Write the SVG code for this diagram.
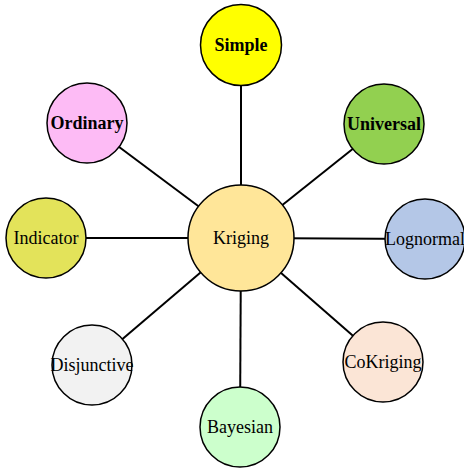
<svg xmlns="http://www.w3.org/2000/svg" width="464" height="468" viewBox="0 0 464 468">
<style>
.c{stroke:#000;stroke-width:1.5}
.t{font-family:"Liberation Serif","Times New Roman",serif;font-size:18px;text-anchor:middle;dominant-baseline:central;fill:#000}
.b{font-weight:bold}
#connectors line{stroke:#000;stroke-width:2}
</style>
<rect width="464" height="468" fill="#fff"/>
<g id="connectors">
<line x1="241" y1="238" x2="241" y2="45"/>
<line x1="241" y1="238" x2="384" y2="124"/>
<line x1="241" y1="238" x2="425" y2="239"/>
<line x1="241" y1="238" x2="383" y2="362"/>
<line x1="241" y1="238" x2="240" y2="427"/>
<line x1="241" y1="238" x2="92" y2="365"/>
<line x1="241" y1="238" x2="46" y2="238"/>
<line x1="241" y1="238" x2="87" y2="123"/>
</g>
<g id="simple"><circle class="c" cx="241" cy="45" r="40.5" fill="#ffff00"/><text class="t b" x="241" y="45">Simple</text></g>
<g id="universal"><circle class="c" cx="384" cy="124" r="40" fill="#92d050"/><text class="t b" x="384" y="124">Universal</text></g>
<g id="lognormal"><circle class="c" cx="425" cy="239" r="40" fill="#b4c7e7"/><text class="t" x="425" y="239">Lognormal</text></g>
<g id="cokriging"><circle class="c" cx="383" cy="362" r="40" fill="#fbe5d6"/><text class="t" x="383" y="362">CoKriging</text></g>
<g id="bayesian"><circle class="c" cx="240" cy="427" r="40" fill="#ccffcc"/><text class="t" x="240" y="427">Bayesian</text></g>
<g id="disjunctive"><circle class="c" cx="92" cy="365" r="40" fill="#f2f2f2"/><text class="t" x="92" y="365">Disjunctive</text></g>
<g id="indicator"><circle class="c" cx="46" cy="238" r="40" fill="#e3e35a"/><text class="t" x="46" y="238">Indicator</text></g>
<g id="ordinary"><circle class="c" cx="87" cy="123" r="40" fill="#fdbbf5"/><text class="t b" x="87" y="123">Ordinary</text></g>
<g id="kriging"><circle class="c" cx="241" cy="238" r="53" fill="#ffe699"/><text class="t" x="241" y="238">Kriging</text></g>
</svg>
